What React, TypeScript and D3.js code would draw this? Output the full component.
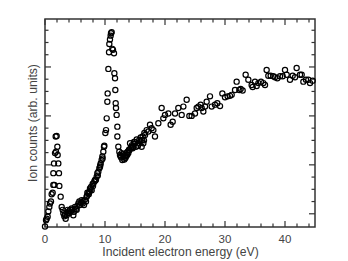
import React, { useEffect, useRef } from "react";
import * as d3 from "d3";

// incident electron energy (eV)
const energy: number[] = [
  0.0, 0.17, 0.28, 0.44, 0.56, 0.72, 0.83, 1.0, 1.11, 1.28, 1.39, 1.56, 1.39, 1.5, 1.67, 1.83, 1.78, 1.94,
  2.06, 2.11, 2.22, 2.33, 2.39, 2.61, 2.78, 2.94, 3.06, 3.22, 3.44, 3.61, 3.89, 3.78, 4.17, 4.06, 4.44,
  4.72, 4.83, 5.0, 5.28, 5.56, 5.72, 5.83, 6.11, 6.28, 6.5, 6.67, 6.83, 6.94, 7.06, 7.22, 7.39, 7.5, 7.67,
  7.78, 7.94, 8.06, 8.22, 8.33, 8.5, 8.61, 8.72, 8.89, 9.06, 9.17, 9.28, 9.44, 9.56, 9.72, 9.83, 9.89,
  10.06, 10.17, 10.28, 10.39, 10.44, 10.56, 10.67, 10.72, 10.83, 10.94, 11.0, 11.11, 11.22, 11.33, 11.5,
  11.56, 11.67, 11.72, 11.78, 11.83, 11.94, 12.06, 12.06, 12.22, 12.39, 12.5, 12.61, 12.78, 12.89, 13.06,
  13.22, 13.33, 13.5, 13.61, 13.78, 13.89, 14.06, 14.17, 14.28, 14.44, 14.61, 14.72, 14.83, 15.0, 15.17,
  15.28, 15.44, 15.72, 15.94, 16.11, 16.28, 16.39, 16.56, 16.67, 16.94, 17.22, 17.5, 17.78, 18.06, 18.33,
  18.89, 19.44, 19.72, 20.0, 20.56, 20.94, 21.28, 21.67, 22.22, 22.78, 23.06, 23.61, 24.06, 24.44, 25.0,
  25.28, 25.56, 25.94, 26.11, 26.39, 26.67, 26.94, 27.5, 27.78, 28.33, 28.72, 29.17, 29.56, 30.0, 30.44,
  30.83, 31.11, 31.67, 31.94, 32.39, 32.61, 32.94, 33.44, 33.89, 34.44, 34.61, 35.0, 35.28, 35.56, 36.0,
  36.39, 36.67, 36.94, 37.22, 37.61, 38.06, 38.33, 38.72, 39.17, 39.61, 40.0, 40.28, 40.83, 41.28, 41.67,
  41.94, 42.5, 42.78, 43.06, 43.5, 43.89, 44.17, 44.61,
  // extra points in the dense region
  3.3, 3.95, 4.3, 4.6, 5.15, 5.4, 6.0, 6.4, 7.0, 7.3, 7.6, 8.0, 8.4, 8.8, 9.2, 9.6,
  12.7, 13.0, 13.4, 13.7, 14.0, 14.5, 14.9, 15.5, 15.9, 16.2, 16.5,
];

// ion counts (arb. units)
const counts: number[] = [
  -26, -13, -10, -6, 5, 14, 21, 25, 40, 43, 59, 59, 83, 103, 124, 127, 158, 159,
  137, 120, 103, 83, 57, 35, 14, 8, 1, -5, -10, -3, 2, 8, 8, 1, 11,
  -3, 4, 14, 8, 21, 25, 18, 28, 21, 18, 29, 25, 35, 43, 42, 45, 52, 55,
  48, 61, 62, 66, 69, 70, 76, 83, 86, 93, 96, 103, 110, 117, 127, 137, 139,
  165, 171, 195, 229, 246, 296, 330, 347, 356, 364, 369, 371, 337, 335, 328,
  287, 277, 253, 226, 216, 202, 178, 158, 137, 127, 120, 117, 124, 110, 117,
  111, 120, 117, 125, 127, 124, 130, 144, 134, 137, 134, 137, 147, 147, 137,
  152, 144, 151, 156, 137, 158, 144, 165, 161, 171, 168, 182, 175, 171, 158,
  185, 216, 195, 202, 205, 182, 188, 205, 216, 202, 219, 233, 200, 200, 205,
  216, 219, 223, 216, 209, 219, 229, 240, 219, 223, 226, 220, 246, 238, 240,
  241, 243, 253, 270, 253, 255, 252, 284, 274, 263, 259, 270, 261, 267, 270,
  267, 263, 294, 282, 282, 281, 279, 277, 281, 281, 294, 284, 274, 282, 279,
  298, 284, 284, 270, 274, 274, 267, 272,
  -2, 5, 4, 9, 10, 16, 22, 26, 37, 40, 50, 57, 68, 78, 99, 113,
  115, 122, 114, 120, 131, 140, 143, 139, 148, 151, 150,
];

const xTickLabels = [0, 10, 20, 30, 40];

export default function App() {
  const ref = useRef<SVGSVGElement | null>(null);

  useEffect(() => {
    const svg = d3.select(ref.current);
    svg.selectAll("*").remove();

    const left = 45,
      right = 315,
      top = 19,
      bottom = 227;
    const axisColor = "#333";
    const font = "'Liberation Sans', Arial, sans-serif";

    const x = d3.scaleLinear().domain([0, 45]).range([left, right]);
    const y = d3.scaleLinear().domain([-27, 398]).range([bottom, top]);

    // ticks on all four sides, pointing in
    const g = svg.append("g").attr("stroke", axisColor).attr("stroke-width", 1.2);
    d3.range(0, 45, 2).forEach((v) => {
      const len = v % 10 === 0 ? 6 : 3.5;
      const px = x(v);
      g.append("line").attr("x1", px).attr("x2", px).attr("y1", bottom).attr("y2", bottom - len);
      g.append("line").attr("x1", px).attr("x2", px).attr("y1", top).attr("y2", top + len);
    });
    d3.range(0, 398, 25).forEach((v) => {
      const len = v % 100 === 0 ? 6 : 3.5;
      const py = y(v);
      g.append("line").attr("x1", left).attr("x2", left + len).attr("y1", py).attr("y2", py);
      g.append("line").attr("x1", right).attr("x2", right - len).attr("y1", py).attr("y2", py);
    });

    svg
      .append("rect")
      .attr("x", left)
      .attr("y", top)
      .attr("width", right - left)
      .attr("height", bottom - top)
      .attr("fill", "none")
      .attr("stroke", axisColor)
      .attr("stroke-width", 1.5);

    // tick labels
    svg
      .selectAll("text.xt")
      .data(xTickLabels)
      .enter()
      .append("text")
      .attr("class", "xt")
      .attr("x", (d) => x(d))
      .attr("y", 243)
      .attr("text-anchor", "middle")
      .attr("font-family", font)
      .attr("font-size", 11.5)
      .attr("fill", "#444")
      .text((d) => d);

    svg
      .append("text")
      .attr("x", (left + right) / 2 + 0.5)
      .attr("y", 256)
      .attr("text-anchor", "middle")
      .attr("font-family", font)
      .attr("font-size", 12.2)
      .attr("fill", "#444")
      .text("Incident electron energy (eV)");

    svg
      .append("text")
      .attr("transform", `translate(37,${(top + bottom) / 2}) rotate(-90)`)
      .attr("text-anchor", "middle")
      .attr("font-family", font)
      .attr("font-size", 12.2)
      .attr("fill", "#444")
      .text("Ion counts (arb. units)");

    // data points
    svg
      .append("g")
      .selectAll("circle")
      .data(energy.map((e, i) => [e, counts[i]]))
      .enter()
      .append("circle")
      .attr("cx", (d) => x(d[0]))
      .attr("cy", (d) => y(d[1]))
      .attr("r", 2.6)
      .attr("fill", "none")
      .attr("stroke", "#000")
      .attr("stroke-width", 1.2);
  }, []);

  return (
    <svg
      ref={ref}
      width={348}
      height={261}
      style={{ position: "absolute", left: 0, top: 0, background: "#fff" }}
    />
  );
}
